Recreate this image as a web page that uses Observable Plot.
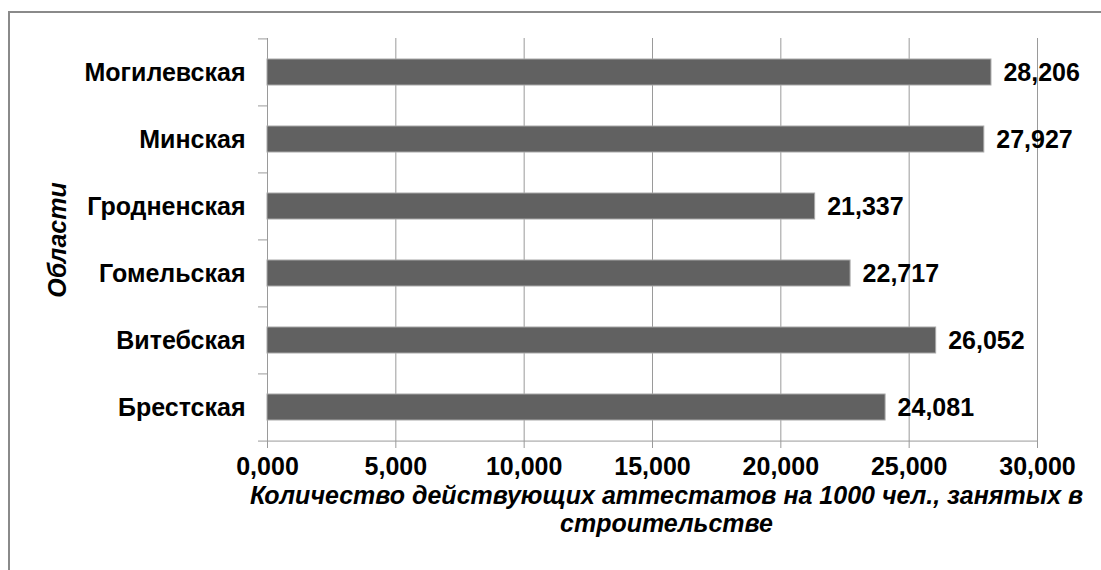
<!DOCTYPE html>
<html>
<head>
<meta charset="utf-8">
<script src="https://cdn.jsdelivr.net/npm/d3@7"></script>
<script src="https://cdn.jsdelivr.net/npm/@observablehq/plot@0.6"></script>
<style>
  html, body { margin: 0; padding: 0; background: #fff; overflow: hidden; width: 1101px; height: 570px; }
  #wrap { position: relative; width: 1101px; height: 570px; }
  #frame { position: absolute; left: 8px; top: 11px; width: 1200px; height: 700px; border: 2px solid #8a8a8a; box-sizing: border-box; pointer-events: none; }
  #chart { position: absolute; left: 0; top: 0; }
</style>
</head>
<body>
<div id="wrap">
  <div id="chart"></div>
  <div id="frame"></div>
</div>
<script>
const regions = ["Могилевская", "Минская", "Гродненская", "Гомельская", "Витебская", "Брестская"];
const values = [28.206, 27.927, 21.337, 22.717, 26.052, 24.081];
const xTicks = [0, 5, 10, 15, 20, 25, 30];
const xTitle = "Количество действующих аттестатов на 1000 чел., занятых в\nстроительстве";
const yTitle = "Области";

const data = regions.map((r, i) => ({region: r, value: values[i]}));
const fmt = v => v.toFixed(3).replace(".", ",");

const W = 1101, H = 570;
const mL = 267, mR = 64, mT = 38, mB = 129;
const step = (H - mT - mB) / regions.length;
const tickLen = 9; // px length of category boundary ticks
const xPerPx = 30 / (W - mL - mR);
const font = "'Liberation Sans', Arial, sans-serif";
const fs = 25;

const plot = Plot.plot({
  width: W,
  height: H,
  marginLeft: mL,
  marginRight: mR,
  marginTop: mT,
  marginBottom: mB,
  style: {background: "transparent", fontFamily: font, color: "#000", overflow: "visible"},
  x: {domain: [0, 30], ticks: xTicks, tickFormat: fmt},
  y: {domain: regions, paddingInner: 0.61, paddingOuter: 0.305},
  marks: [
    Plot.gridX(xTicks, {stroke: "#9a9a9a", strokeOpacity: 1, strokeWidth: 1}),
    Plot.ruleY(regions, {y: d => d, dy: -step / 2, x1: -tickLen * xPerPx, x2: 0, stroke: "#9a9a9a"}),
    Plot.ruleY([regions[regions.length - 1]], {y: d => d, dy: step / 2, x1: -tickLen * xPerPx, x2: 30, stroke: "#9a9a9a"}),
    Plot.axisX(xTicks, {
      anchor: "bottom", tickSize: 7, tickPadding: 9, stroke: "#9a9a9a",
      tickFormat: fmt, fontSize: fs, fontWeight: "bold", fill: "#000", label: null
    }),
    Plot.axisY({anchor: "left", tickSize: 0, tickPadding: 22, fontSize: fs, fontWeight: "bold", fill: "#000", label: null}),
    Plot.barX(data, {y: "region", x: "value", fill: "#616161", stroke: "#a8a8a8", strokeWidth: 1}),
    Plot.text(data, {
      y: "region", x: "value", text: d => fmt(d.value), textAnchor: "start", dx: 12,
      fontSize: fs, fontWeight: "bold", fill: "#000"
    }),
    Plot.text([xTitle], {
      frameAnchor: "bottom", text: d => d, dy: 43, dx: 14, lineAnchor: "top", lineHeight: 1.12,
      fontSize: fs, fontWeight: "bold", fontStyle: "italic", fill: "#000"
    }),
    Plot.text([yTitle], {
      frameAnchor: "left", textAnchor: "middle", text: d => d, dx: -210, rotate: -90,
      fontSize: fs, fontWeight: "bold", fontStyle: "italic", fill: "#000"
    })
  ]
});
document.getElementById("chart").appendChild(plot);
</script>
</body>
</html>
